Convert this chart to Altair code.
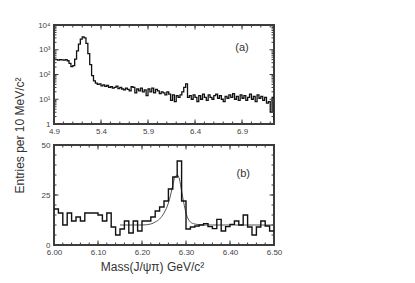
import altair as alt
import pandas as pd

# ---------------- data ----------------
# Panel (a): J/psi pi mass spectrum, 20 MeV sampling (entries per 10 MeV)
top_mass = [round(4.90 + 0.02 * i, 2) for i in range(118)]
top_counts = [
    420, 400, 380, 400, 390, 380, 400, 360, 280, 210,
    230, 420, 900, 1700, 2700, 3300, 3000, 1800, 700, 250,
    90, 55, 45, 40, 42, 35, 38, 33, 36, 30,
    32, 28, 30, 34, 27, 30, 26, 24, 28, 25,
    22, 32, 30, 18, 26, 22, 28, 20, 24, 14,
    26, 20, 28, 18, 25, 22, 17, 20, 18, 15,
    20, 16, 9, 15, 8, 14, 12, 15, 20, 30,
    42, 12, 14, 10, 15, 12, 8, 14, 10, 16,
    12, 9, 15, 12, 10, 14, 16, 11, 14, 10,
    8, 13, 11, 15, 12, 17, 10, 13, 9, 15,
    11, 14, 9, 12, 16, 10, 13, 8, 15, 11,
    13, 9, 12, 7, 8, 3, 12, 1.5,
]

# Panel (b): zoom 6.00-6.50, 10 MeV bins (left edges) + closing edge
bot_mass = [round(6.00 + 0.01 * i, 2) for i in range(51)]
bot_counts = [
    18, 16, 10, 16, 12, 14, 12, 16, 16, 16,
    15, 12, 16, 9, 5, 8, 12, 6, 12, 7,
    12, 12, 14, 17, 19, 22, 28, 34, 42, 22,
    8, 9, 9.5, 10, 10.7, 9.2, 8.2, 12.8, 7, 9.2,
    10.3, 12, 10, 15, 9, 5, 9, 12, 9.5, 7,
    7,
]

# Fit curve
fit_mass = [6.15, 6.20, 6.22, 6.23, 6.24, 6.25, 6.26, 6.265, 6.27, 6.275,
            6.28, 6.285, 6.29, 6.295, 6.30, 6.305, 6.31, 6.32, 6.34, 6.40, 6.50]
fit_vals = [10, 10, 10.5, 11.5, 13, 16, 21, 25, 30, 34,
            35, 33, 27, 21, 16, 13, 11.5, 10.5, 10, 10, 10]

top_xticks_major = [4.9, 5.4, 5.9, 6.4, 6.9]
top_xticks_minor = [round(4.9 + 0.1 * i, 1) for i in range(24)]
top_yticks_major = [1, 10, 100, 1000, 10000]
top_yticks_minor = [m * 10 ** d for d in range(4) for m in range(2, 10)]
bot_xticks_major = [6.0, 6.1, 6.2, 6.3, 6.4, 6.5]
bot_xticks_minor = [round(6.0 + 0.02 * i, 2) for i in range(26)]
bot_yticks_major = [0, 25, 50]
bot_yticks_minor = [5 * i for i in range(11)]

panel_labels = ["(a)", "(b)"]
label_mass = [6.9, 6.43]
label_vals = [1200, 35.5]

# ---------------- styling ----------------
W, H1, H2 = 220, 99, 100
FONT = "Liberation Sans"
FRAME = "#3c3c3c"

top_xs = alt.Scale(domain=[4.9, 7.24], nice=False, zero=False)
top_ys = alt.Scale(type="log", domain=[1, 10000], nice=False)
bot_xs = alt.Scale(domain=[6.0, 6.5], nice=False, zero=False)
bot_ys = alt.Scale(domain=[0, 50], nice=False, zero=False)

sup = ("datum.value == 1 ? '1' : datum.value == 10 ? '10\u00b9' : "
       "datum.value == 100 ? '10\u00b2' : datum.value == 1000 ? '10\u00b3' : '10\u2074'")

top_xa = alt.Axis(values=top_xticks_major, format=".1f", title="", labelPadding=3)
top_ya = alt.Axis(values=top_yticks_major, labelExpr=sup,
                  title="Entries per 10 MeV/c\u00b2",
                  titleX=-35, titleY=110, titleAngle=-90,
                  titleAlign="center", titleBaseline="middle", labelPadding=4)
bot_xa = alt.Axis(values=bot_xticks_major, format=".2f",
                  title="Mass(J/\u03c8\u03c0) GeV/c\u00b2",
                  titleX=98, titleY=25, titleAlign="center",
                  titleBaseline="alphabetic", labelPadding=3.5)
bot_ya = alt.Axis(values=bot_yticks_major, title="", labelPadding=4)


def X(xs, xa):
    return alt.X("m:Q", scale=xs, axis=xa)


def Y(ys, ya):
    return alt.Y("n:Q", scale=ys, axis=ya)


def xticks(vals, xs, xa, H, L):
    df = pd.DataFrame({"m": vals})
    base = alt.Chart(df).mark_rule(color=FRAME, strokeWidth=1)
    bottom = base.encode(x=X(xs, xa), y=alt.value(H), y2=alt.value(H - L))
    top = base.encode(x=X(xs, xa), y=alt.value(0), y2=alt.value(L))
    return [bottom, top]


def yticks(vals, ys, ya, L):
    df = pd.DataFrame({"n": vals})
    base = alt.Chart(df).mark_rule(color=FRAME, strokeWidth=1)
    left = base.encode(y=Y(ys, ya), x=alt.value(0), x2=alt.value(L))
    right = base.encode(y=Y(ys, ya), x=alt.value(W), x2=alt.value(W - L))
    return [left, right]


# ---------------- panel (a) ----------------
top_df = pd.DataFrame({"m": top_mass, "n": top_counts})
top_line = alt.Chart(top_df).mark_line(
    interpolate="step-after", color="#111111", strokeWidth=1.3, clip=True
).encode(x=X(top_xs, top_xa), y=Y(top_ys, top_ya))
top_text = alt.Chart(pd.DataFrame({"m": label_mass[:1], "n": label_vals[:1],
                                   "t": panel_labels[:1]})).mark_text(
    font=FONT, fontSize=11, color="#333333"
).encode(x=X(top_xs, top_xa), y=Y(top_ys, top_ya), text="t:N")

top = alt.layer(
    top_line, top_text,
    *xticks(top_xticks_minor, top_xs, top_xa, H1, 2.5),
    *xticks(top_xticks_major, top_xs, top_xa, H1, 4.5),
    *yticks(top_yticks_minor, top_ys, top_ya, 2.5),
    *yticks(top_yticks_major, top_ys, top_ya, 4.5),
).properties(width=W, height=H1)

# ---------------- panel (b) ----------------
bot_df = pd.DataFrame({"m": bot_mass, "n": bot_counts})
fit_df = pd.DataFrame({"m": fit_mass, "n": fit_vals})
bot_hist = alt.Chart(bot_df).mark_line(
    interpolate="step-after", color="#111111", strokeWidth=1.4, clip=True
).encode(x=X(bot_xs, bot_xa), y=Y(bot_ys, bot_ya))
bot_fit = alt.Chart(fit_df).mark_line(
    interpolate="monotone", color="#555555", strokeWidth=1, clip=True
).encode(x=X(bot_xs, bot_xa), y=Y(bot_ys, bot_ya))
bot_text = alt.Chart(pd.DataFrame({"m": label_mass[1:], "n": label_vals[1:],
                                   "t": panel_labels[1:]})).mark_text(
    font=FONT, fontSize=11, color="#333333"
).encode(x=X(bot_xs, bot_xa), y=Y(bot_ys, bot_ya), text="t:N")

bottom = alt.layer(
    bot_fit, bot_hist, bot_text,
    *xticks(bot_xticks_minor, bot_xs, bot_xa, H2, 2.5),
    *xticks(bot_xticks_major, bot_xs, bot_xa, H2, 4.5),
    *yticks(bot_yticks_minor, bot_ys, bot_ya, 2.5),
    *yticks(bot_yticks_major, bot_ys, bot_ya, 4.5),
).properties(width=W, height=H2)

chart = alt.vconcat(top, bottom, spacing=21, bounds="flush").properties(
    padding={"left": 4, "top": 12, "right": 5, "bottom": 5}
).configure_view(
    stroke=FRAME, strokeWidth=2
).configure_axis(
    domain=False, ticks=False, grid=False,
    labelFont=FONT, labelFontSize=8, labelColor="#444444",
    titleFont=FONT, titleFontSize=12, titleColor="#333333", titleFontWeight="normal",
    minExtent=20, labelBound=False, labelFlush=False,
)

chart.save("out.html", embed_options={"renderer": "svg", "actions": False})
